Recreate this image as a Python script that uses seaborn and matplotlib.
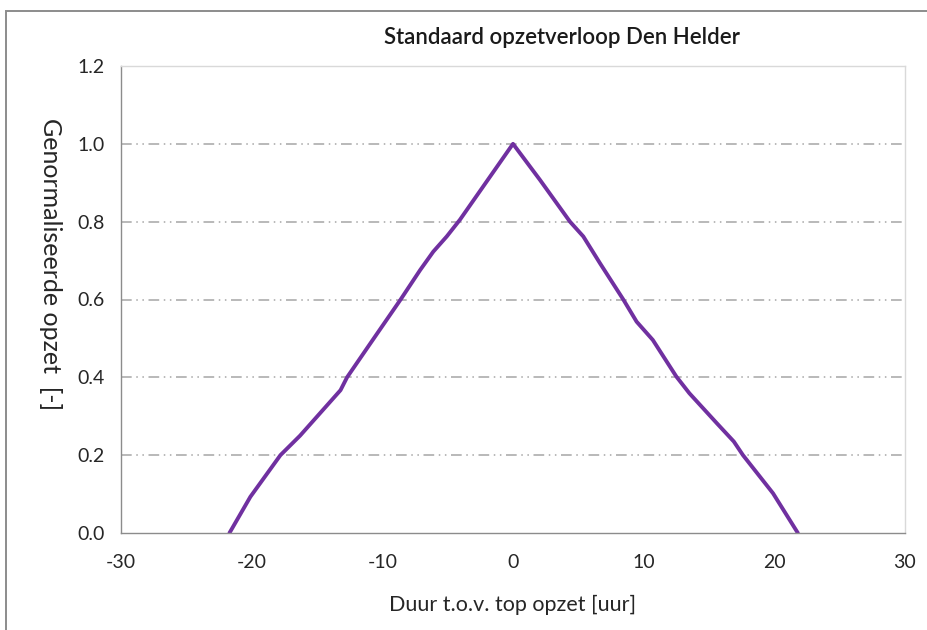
import matplotlib
matplotlib.use("Agg")
import matplotlib.pyplot as plt
import seaborn as sns
import pandas as pd
from matplotlib.patches import Rectangle

duur = [-21.7, -20.1, -17.8, -16.3, -13.2, -12.7, -10.9, -8.6, -7.1, -6.1, -5.07, -4.06, 0.0,
        2.07, 4.36, 5.38, 6.66, 8.44, 9.46, 10.7, 12.5, 13.5, 15.6, 16.9, 17.6, 19.9, 21.8]
opzet = [0.0, 0.093, 0.20, 0.25, 0.367, 0.40, 0.488, 0.60, 0.676, 0.723, 0.762, 0.805, 1.0,
         0.907, 0.80, 0.762, 0.693, 0.60, 0.543, 0.496, 0.402, 0.359, 0.282, 0.235, 0.20, 0.102, 0.0]
x_ticks = [-30, -20, -10, 0, 10, 20, 30]
y_ticks = [0.0, 0.2, 0.4, 0.6, 0.8, 1.0, 1.2]

sns.set_style("white")
plt.rcParams['font.family'] = ['Lato', 'DejaVu Sans']

df = pd.DataFrame({"duur": duur, "opzet": opzet})

fig = plt.figure(figsize=(9.28, 6.3), dpi=100)
W, H = 928, 630
ax = fig.add_axes([121 / W, 1 - 533 / H, (905 - 121) / W, (533 - 66) / H])

sns.lineplot(data=df, x="duur", y="opzet", ax=ax, color="#7030A0", linewidth=2.8, sort=False)

ax.set_xlim(-30, 30)
ax.set_ylim(0, 1.2)
ax.set_xticks(x_ticks)
ax.set_yticks(y_ticks)
ax.set_xticklabels([str(v) for v in x_ticks], fontsize=14, color="#262626")
ax.set_yticklabels([f"{v:.1f}" for v in y_ticks], fontsize=14, color="#262626")

for v in y_ticks[1:-1]:
    ax.axhline(v, color="#A6A6A6", linewidth=1.1, linestyle=(0, (7, 3, 1, 3, 1, 3)), zorder=0)

for s in ["left", "bottom"]:
    ax.spines[s].set_color("#8C8C8C")
    ax.spines[s].set_linewidth(1.0)
for s in ["top", "right"]:
    ax.spines[s].set_color("#D9D9D9")
    ax.spines[s].set_linewidth(1.0)

ax.tick_params(axis="both", direction="out", length=5, color="#8C8C8C", width=1.0)
ax.tick_params(axis="x", pad=10)
ax.tick_params(axis="y", pad=7)

ax.set_xlabel("Duur t.o.v. top opzet [uur]", fontsize=15.5, labelpad=17, color="#262626")
ax.set_ylabel("Genormaliseerde opzet  [-]", fontsize=18, rotation=270, color="#262626")
ax.yaxis.set_label_coords(-82 / (905 - 121), 0.575)
ax.set_title("Standaard opzetverloop Den Helder", fontsize=16, fontweight="semibold", pad=16,
             x=(562 - 121) / (905 - 121), color="#1a1a1a")

fig.patches.append(Rectangle((6 / W, -0.05), 1.2, 1 - 11 / H + 0.05, transform=fig.transFigure,
                             fill=False, edgecolor="#8C8C8C", linewidth=1.4))

fig.savefig("out.png", dpi=100)
